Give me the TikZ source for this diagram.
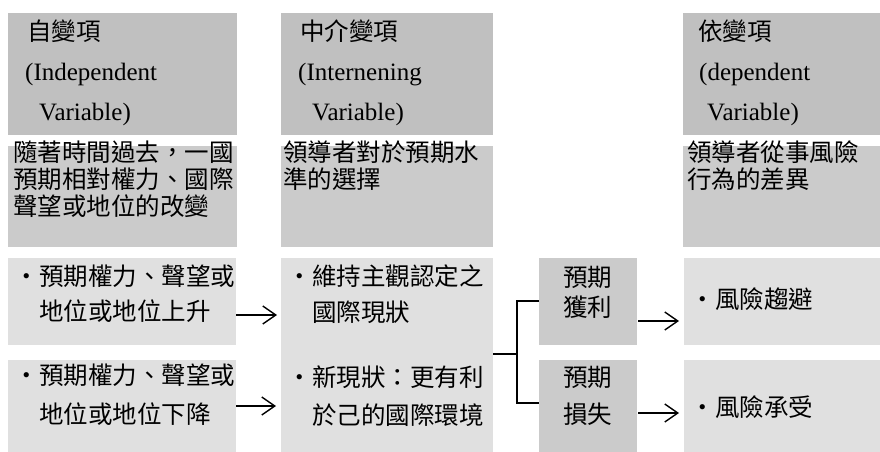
\documentclass[tikz,border=0pt]{standalone}
\usepackage{fontspec}
\setmainfont{Liberation Serif}
\newfontfamily\cjk{Noto Sans CJK TC}
\usetikzlibrary{arrows.meta}
\definecolor{hdr}{HTML}{C0C0C0}
\definecolor{mid}{HTML}{CBCBCB}
\definecolor{lite}{HTML}{E0E0E0}
\tikzset{
  cell/.style={draw=none, inner sep=0pt, outer sep=0pt, anchor=north west},
  cj/.style={anchor=west, inner sep=0pt, font=\cjk\fontsize{24.5}{24.5}\selectfont, text height=0.76em, text depth=0pt},
  la/.style={anchor=west, inner sep=0pt, font=\fontsize{25}{25}\selectfont, text height=0.6em, text depth=0pt},
  arr/.style={line width=1.4pt, -{Straight Barb[length=13pt, width=18pt, line width=1.4pt]}},
  conn/.style={line width=1.8pt},
}
\begin{document}
\begin{tikzpicture}[x={(1pt,0)}, y={(0,-1pt)}]
\useasboundingbox (0,0) rectangle (880,452);
% header row
\node[cell, fill=hdr, minimum width=229pt, minimum height=122pt] (h1) at (8,13) {};
\node[cell, fill=hdr, minimum width=212pt, minimum height=122pt] (h2) at (281,13) {};
\node[cell, fill=hdr, minimum width=197pt, minimum height=122pt] (h4) at (683,13) {};
% second row
\node[cell, fill=mid, minimum width=229pt, minimum height=101pt] (r1) at (8,146) {};
\node[cell, fill=mid, minimum width=212pt, minimum height=101pt] (r2) at (281,146) {};
\node[cell, fill=mid, minimum width=197pt, minimum height=101pt] (r4) at (683,146) {};
% bottom rows
\node[cell, fill=lite, minimum width=228pt, minimum height=87pt] (b1a) at (8,258) {};
\node[cell, fill=lite, minimum width=228pt, minimum height=92pt] (b1b) at (8,360) {};
\node[cell, fill=lite, minimum width=212pt, minimum height=102pt] (b2a) at (281,258) {};
\node[cell, fill=lite, minimum width=212pt, minimum height=92pt] (b2b) at (281,360) {};
\node[cell, fill=mid, minimum width=98pt, minimum height=87pt] (pa) at (539,258) {};
\node[cell, fill=mid, minimum width=98pt, minimum height=92pt] (pb) at (539,360) {};
\node[cell, fill=lite, minimum width=196pt, minimum height=87pt] (ra) at (684,258) {};
\node[cell, fill=lite, minimum width=196pt, minimum height=92pt] (rb) at (684,360) {};
% header texts
\node[cj] (h1a) at (27,37) {自變項};
\node[la] (h1b) at (25,78) {(Independent};
\node[la] (h1c) at (39,117) {Variable)};
\node[cj] (h2a) at (300,37) {中介變項};
\node[la] (h2b) at (298,78) {(Internening};
\node[la] (h2c) at (312,117) {Variable)};
\node[cj] (h4a) at (698,37) {依變項};
\node[la] (h4b) at (699,78) {(dependent};
\node[la] (h4c) at (707,117) {Variable)};
% second row texts
\node[cj] (r1a) at (13,158) {隨著時間過去，一國};
\node[cj] (r1b) at (13,185) {預期相對權力、國際};
\node[cj] (r1c) at (13,212) {聲望或地位的改變};
\node[cj] (r2a) at (283,158) {領導者對於預期水};
\node[cj] (r2b) at (283,185) {準的選擇};
\node[cj] (r4a) at (687,158) {領導者從事風險};
\node[cj] (r4b) at (687,185) {行為的差異};
% bottom texts
\node[cj] (b1a1) at (14.5,282) {・預期權力、聲望或};
\node[cj] (b1a2) at (39,317) {地位或地位上升};
\node[cj] (b1b1) at (14.5,381) {・預期權力、聲望或};
\node[cj] (b1b2) at (39,420) {地位或地位下降};
\node[cj] (b2a1) at (287.5,282) {・維持主觀認定之};
\node[cj] (b2a2) at (312,318) {國際現狀};
\node[cj] (b2b1) at (287.5,383) {・新現狀：更有利};
\node[cj] (b2b2) at (312,421) {於己的國際環境};
\node[cj] (pa1) at (563,283) {預期};
\node[cj] (pa2) at (563,313) {獲利};
\node[cj] (pb1) at (563,383) {預期};
\node[cj] (pb2) at (563,420) {損失};
\node[cj] (ra1) at (690.5,305) {・風險趨避};
\node[cj] (rb1) at (690.5,413) {・風險承受};
% connectors
\coordinate (y1) at (0,315);
\coordinate (y2) at (0,406);
\coordinate (y3) at (0,321);
\coordinate (y4) at (0,413);
\draw[arr, shorten >=4pt] (b1a.east |- y1) -- (b2a.west |- y1);
\draw[arr, shorten >=5pt] (b1b.east |- y2) -- (b2b.west |- y2);
\draw[arr, shorten >=5pt, shorten <=1pt] (pa.east |- y3) -- (ra.west |- y3);
\draw[arr, shorten >=5pt, shorten <=1pt] (pb.east |- y4) -- (rb.west |- y4);
\coordinate (jm) at (517,354);
\coordinate (jt) at (517,301);
\coordinate (jb) at (517,403);
\draw[conn] (b2a.east |- jm) -- (jm);
\draw[conn] (pa.west |- jt) -- (jt) -- (jb) -- (pb.west |- jb);
\end{tikzpicture}
\end{document}
